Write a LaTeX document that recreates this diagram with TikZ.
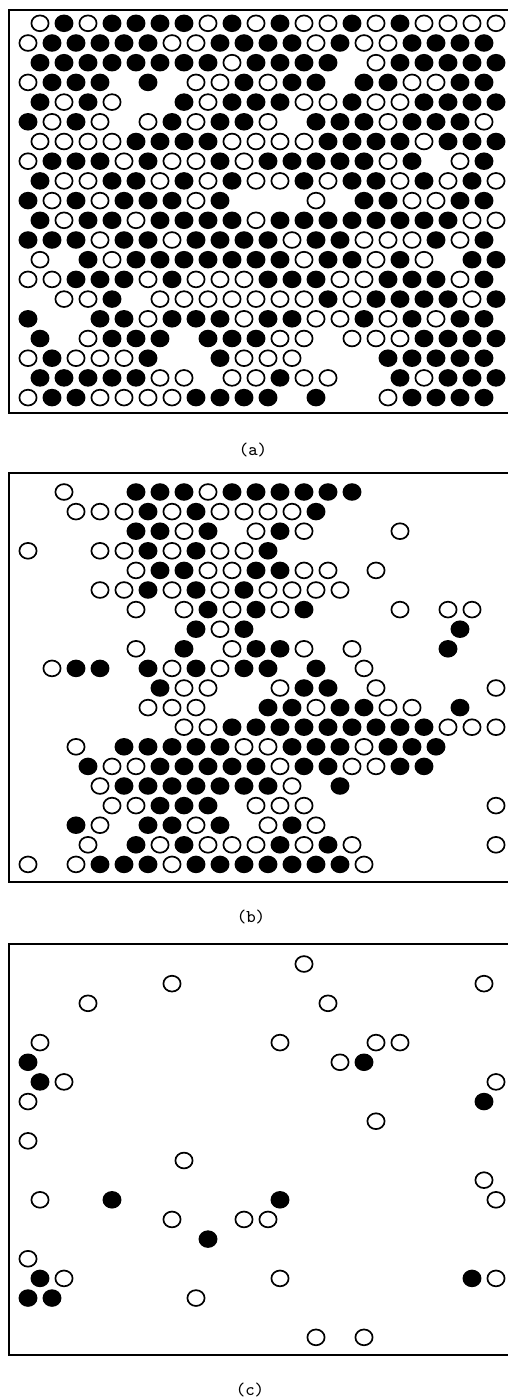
\documentclass[tikz,border=0pt]{standalone}
\usepackage{tikz}
\usetikzlibrary{shapes.geometric}

\begin{document}
\begin{tikzpicture}[
  x=0.5pt, y=-0.5pt,
  ring/.style={ellipse, draw, line width=0.85pt, fill=white, minimum width=8.6pt, minimum height=7.9pt, inner sep=0pt},
  dot/.style={ring, fill=black},
  frame/.style={draw, line width=1.1pt},
  tag/.style={font=\ttfamily\fontsize{9}{11}\selectfont}
]
\useasboundingbox (0,0) rectangle (508,1399);
\clip (0,0) rectangle (508,1399);

% Frames
\draw[frame] (9,10) rectangle (540,413);
\draw[frame] (9,473) rectangle (540,882);
\draw[frame] (9,944) rectangle (540,1355);

% Panel (a): o = open, x = filled, - = empty site
\foreach \r/\cells in {
  1/{o,x,o,x,x,x,x,o,x,o,x,o,o,x,o,x,o,o,o,o},
  2/{o,x,x,x,x,x,o,o,x,x,x,x,o,x,o,o,x,x,x,x},
  3/{x,x,x,x,x,x,x,x,o,x,x,x,x,-,o,x,x,x,x,x},
  4/{o,x,x,x,-,x,-,o,o,x,o,x,x,-,x,x,o,o,x,x},
  5/{x,o,x,o,-,-,x,o,x,x,x,o,o,x,o,o,x,x,x,x},
  6/{x,o,x,o,-,o,x,o,x,x,o,-,x,x,x,o,x,x,x,o},
  7/{o,o,o,o,x,x,x,x,o,o,o,o,x,x,x,x,o,x,x,x},
  8/{o,x,x,x,o,x,o,o,x,o,x,x,x,x,x,o,x,-,o,x},
  9/{x,o,o,x,x,o,x,o,x,o,o,x,o,x,x,o,x,o,x,o},
  10/{x,o,x,o,x,x,x,o,x,-,-,-,o,-,x,x,o,o,x,x},
  11/{x,o,x,x,o,x,x,x,x,o,x,x,x,x,x,x,x,x,o,o},
  12/{x,x,x,o,x,x,o,x,x,x,x,o,x,x,o,o,o,x,o,x},
  13/{o,-,x,o,x,x,x,x,x,x,x,o,x,x,o,x,o,-,x,x},
  14/{o,o,x,x,x,o,x,o,o,o,x,x,x,o,o,x,x,x,o,x},
  15/{-,o,o,x,-,o,o,o,o,o,o,o,x,o,x,x,x,x,o,x},
  16/{x,-,-,x,x,o,x,x,x,o,x,x,o,o,x,o,x,o,x,x},
  17/{x,-,o,x,x,x,-,x,x,x,o,o,-,o,o,o,x,x,x,x},
  18/{o,x,o,o,o,x,-,-,x,o,o,o,-,-,-,x,x,x,x,x},
  19/{x,x,x,x,x,o,o,-,o,o,x,o,o,-,-,x,o,x,x,x},
  20/{o,x,x,o,o,o,o,x,x,x,x,-,x,-,-,o,x,x,x,x}} {
  \pgfmathsetmacro{\rowy}{23.3+19.7*(\r-1)}
  \pgfmathsetmacro{\rowx}{28+12*mod(\r,2)}
  \foreach \state [count=\k from 0] in \cells {
    \if\state o \node[ring] (a-\r-\k) at ({\rowx+24*\k},\rowy) {};\fi
    \if\state x \node[dot] (a-\r-\k) at ({\rowx+24*\k},\rowy) {};\fi
  }
}

% Panel (b)
\foreach \r/\cells in {
  1/{-,o,-,-,x,x,x,o,x,x,x,x,x,x,-,-,-,-,-,-},
  2/{-,-,o,o,o,x,o,x,o,o,o,o,x,-,-,-,-,-,-,-},
  3/{-,-,-,-,x,x,o,x,-,o,x,o,-,-,-,o,-,-,-,-},
  4/{o,-,-,o,o,x,o,x,o,o,x,-,-,-,-,-,-,-,-,-},
  5/{-,-,-,-,o,x,x,o,o,x,x,o,o,-,o,-,-,-,-,-},
  6/{-,-,-,o,o,x,o,x,o,x,o,o,o,o,-,-,-,-,-,-},
  7/{-,-,-,-,o,-,o,x,o,x,o,x,-,-,-,o,-,o,o,-},
  8/{-,-,-,-,-,-,-,x,o,x,-,-,-,-,-,-,-,-,x,-},
  9/{-,-,-,-,o,-,x,-,o,x,x,o,-,o,-,-,-,x,-,-},
  10/{-,o,x,x,-,x,o,x,o,x,x,-,x,-,o,-,-,-,-,-},
  11/{-,-,-,-,-,x,o,o,-,-,o,x,x,-,o,-,-,-,-,o},
  12/{-,-,-,-,-,o,o,o,-,-,x,x,o,x,x,o,o,-,x,-},
  13/{-,-,-,-,-,-,o,o,x,x,x,x,x,x,x,x,x,o,o,o},
  14/{-,-,o,-,x,x,x,x,x,o,o,x,x,x,o,x,x,x,-,-},
  15/{-,-,x,o,o,x,x,x,x,x,o,x,x,o,o,x,x,-,-,-},
  16/{-,-,-,o,x,x,x,x,x,x,x,o,-,x,-,-,-,-,-,-},
  17/{-,-,-,o,o,x,x,x,-,o,o,o,-,-,-,-,-,-,-,o},
  18/{-,-,x,o,-,x,x,o,x,-,o,x,o,-,-,-,-,-,-,-},
  19/{-,-,o,-,x,o,x,o,o,o,x,o,x,o,-,-,-,-,-,o},
  20/{o,-,o,x,x,x,o,x,x,x,x,x,x,x,o,-,-,-,-,-}} {
  \pgfmathsetmacro{\rowy}{492+19.6*(\r-1)}
  \pgfmathsetmacro{\rowx}{28+12*mod(\r,2)}
  \foreach \state [count=\k from 0] in \cells {
    \if\state o \node[ring] (b-\r-\k) at ({\rowx+24*\k},\rowy) {};\fi
    \if\state x \node[dot] (b-\r-\k) at ({\rowx+24*\k},\rowy) {};\fi
  }
}

% Panel (c): row/site/state
\foreach \r/\k/\state in {1/11/o, 2/6/o, 2/19/o, 3/2/o, 3/12/o,
  5/0/o, 5/10/o, 5/14/o, 5/15/o, 6/0/x, 6/13/o, 6/14/x,
  7/0/x, 7/1/o, 7/19/o, 8/0/o, 8/19/x, 9/14/o, 10/0/o, 11/6/o, 12/19/o,
  13/0/o, 13/3/x, 13/10/x, 13/19/o, 14/6/o, 14/9/o, 14/10/o, 15/7/x,
  16/0/o, 17/0/x, 17/1/o, 17/10/o, 17/18/x, 17/19/o,
  18/0/x, 18/1/x, 18/7/o, 20/12/o, 20/14/o} {
  \pgfmathsetmacro{\rowy}{964+19.65*(\r-1)}
  \pgfmathsetmacro{\rowx}{28+12*mod(\r,2)}
  \if\state o \node[ring] (c-\r-\k) at ({\rowx+24*\k},\rowy) {};\fi
  \if\state x \node[dot] (c-\r-\k) at ({\rowx+24*\k},\rowy) {};\fi
}

% Captions
\node[tag] (cap-a) at (253,450) {(a)};
\node[tag] (cap-b) at (251,917) {(b)};
\node[tag] (cap-c) at (250,1390) {(c)};

\end{tikzpicture}
\end{document}
